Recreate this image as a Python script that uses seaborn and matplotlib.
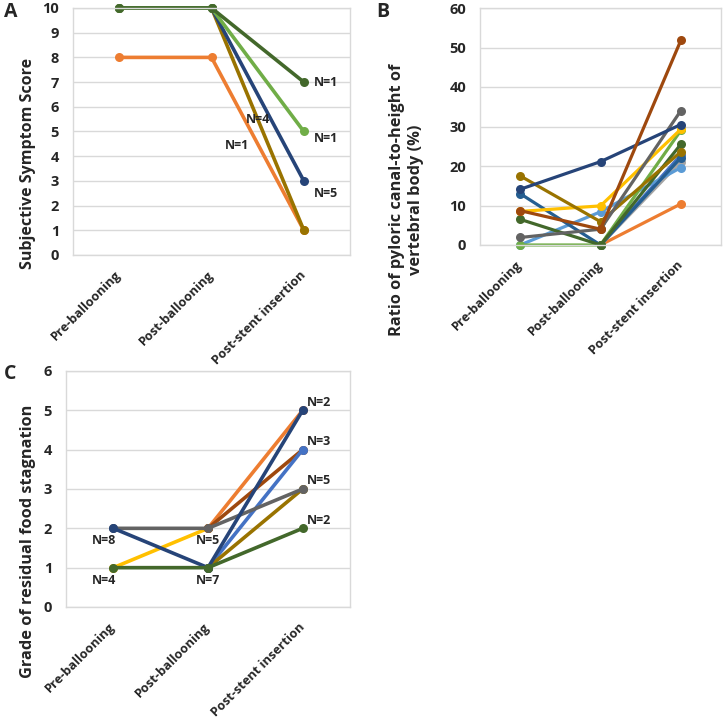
import numpy as np
import pandas as pd
import matplotlib
matplotlib.use("Agg")
import matplotlib.pyplot as plt
import seaborn as sns

stages = ["Pre-ballooning", "Post-ballooning", "Post-stent insertion"]

# Panel A - subjective symptom score (one line per patient group)
a_names = ["orange", "olive", "dark blue", "green", "dark green"]
a_pre = [8, 10, 10, 10, 10]
a_post = [8, 10, 10, 10, 10]
a_stent = [1, 1, 3, 5, 7]

# Panel B - ratio of pyloric canal to vertebral body height (%)
b_names = ["orange", "light gray", "royal blue", "light blue", "blue", "green",
           "dark green", "gold", "olive", "gray", "dark blue", "brown"]
b_pre = [np.nan, np.nan, np.nan, 0.0, 13.0, 0.0, 6.5, 8.5, 17.5, 1.9, 14.1, 8.7]
b_post = [0.0, 0.0, 0.0, 8.4, 0.0, 0.0, 0.0, 9.9, 5.9, 4.0, 21.1, 4.0]
b_stent = [10.4, 21.1, 22.8, 19.6, 22.1, 29.0, 25.5, 29.3, 23.6, 34.0, 30.5, 51.8]

# Panel C - grade of residual food stagnation
c_names = ["gold", "orange", "brown", "royal blue", "olive", "gray", "dark blue", "dark green"]
c_pre = [1, np.nan, np.nan, np.nan, np.nan, 2, 2, 1]
c_post = [2, 2, 2, 1, 1, 2, 1, 1]
c_stent = [np.nan, 5, 4, 4, 3, 3, 5, 2]
c_left_labels = ["N=8", "N=4"]
c_mid_labels = ["N=5", "N=7"]
c_right_labels = ["N=2", "N=3", "N=5", "N=2"]
c_right_values = [5, 4, 3, 2]

colors = {
    "orange": "#ED7D31", "olive": "#997300", "dark blue": "#264478",
    "green": "#70AD47", "dark green": "#43682B", "light gray": "#A5A5A5",
    "royal blue": "#4472C4", "light blue": "#5B9BD5", "blue": "#255E91",
    "gold": "#FFC000", "gray": "#636363", "brown": "#9E480E",
}

GRID = "#D9D9D9"
NFS = 9


def long_df(names, pre, post, stent):
    rows = []
    for i, n in enumerate(names):
        for j, v in enumerate((pre[i], post[i], stent[i])):
            if not np.isnan(v):
                rows.append((n, j, v))
    return pd.DataFrame(rows, columns=["series", "stage", "value"])


def draw(ax, names, pre, post, stent, ymax, ystep, lw, ms):
    df = long_df(names, pre, post, stent)
    sns.lineplot(data=df, x="stage", y="value", hue="series", hue_order=names,
                 palette=colors, marker="o", markersize=ms, markeredgewidth=0,
                 linewidth=lw, legend=False, estimator=None, sort=False, ax=ax)
    for ln in ax.lines:
        ln.set_clip_on(False)
    ax.set_xlim(-0.5, 2.5)
    ax.set_ylim(0, ymax)
    ax.set_yticks(np.arange(0, ymax + 0.1, ystep))
    ax.set_xticks(range(3))
    ax.set_xticklabels(stages, rotation=45, ha="right", va="center",
                       rotation_mode="anchor", fontsize=9.2, fontweight="bold")
    ax.tick_params(axis="x", length=0, pad=13)
    ax.tick_params(axis="y", length=0, pad=10, labelsize=10.5)
    for lab in ax.get_yticklabels():
        lab.set_fontweight("bold")
    ax.yaxis.grid(True, color=GRID, lw=1)
    ax.xaxis.grid(False)
    ax.set_axisbelow(True)
    for s in ax.spines.values():
        s.set_color(GRID)
        s.set_linewidth(1)
    ax.set_xlabel("")
    ax.set_ylabel("")


sns.set_theme(style="white")
plt.rcParams["font.family"] = ["Open Sans", "DejaVu Sans"]
plt.rcParams["font.weight"] = "bold"

W, H = 726, 727
fig = plt.figure(figsize=(W / 100, H / 100), dpi=100)


def px_axes(l, t, r, b):
    return fig.add_axes([l / W, 1 - b / H, (r - l) / W, (b - t) / H])


# Panel A
axA = px_axes(73, 8, 350, 255)
draw(axA, a_names, a_pre, a_post, a_stent, 10, 1, 2.6, 6.5)
for txt, y, dy in [("N=1", 7, 0), ("N=1", 5, -5), ("N=5", 3, -9)]:
    axA.annotate(txt, (2, y), xytext=(7, dy), textcoords="offset points",
                 ha="left", va="center", fontsize=NFS, fontweight="bold")
axA.text(1.5, 5.47, "N=4", ha="center", va="center", fontsize=NFS, fontweight="bold")
axA.text(1.28, 4.45, "N=1", ha="center", va="center", fontsize=NFS, fontweight="bold")
fig.text(28 / W, 1 - 163 / H, "Subjective Symptom Score", rotation=90,
         ha="center", va="center", fontsize=11.5, fontweight="bold")
fig.text(4 / W, 1 - 12 / H, "A", ha="left", va="center", fontsize=14, fontweight="bold")

# Panel B
axB = px_axes(480, 8, 721, 245)
draw(axB, b_names, b_pre, b_post, b_stent, 60, 10, 2.3, 6.5)
fig.text(407 / W, 1 - 200 / H, "Ratio of pyloric canal-to-height of\nvertebral body (%)",
         rotation=90, ha="center", va="center", fontsize=11.8, fontweight="bold",
         multialignment="center", linespacing=1.25)
fig.text(376 / W, 1 - 12 / H, "B", ha="left", va="center", fontsize=14, fontweight="bold")

# Panel C
axC = px_axes(66, 371, 350, 607)
draw(axC, c_names, c_pre, c_post, c_stent, 6, 1, 2.6, 6.5)
for txt, y in zip(c_left_labels, [2, 1]):
    axC.annotate(txt, (0, y), xytext=(-7, -9), textcoords="offset points",
                 ha="center", va="center", fontsize=NFS, fontweight="bold")
for txt, y in zip(c_mid_labels, [2, 1]):
    axC.annotate(txt, (1, y), xytext=(0, -9), textcoords="offset points",
                 ha="center", va="center", fontsize=NFS, fontweight="bold")
for txt, y in zip(c_right_labels, c_right_values):
    axC.annotate(txt, (2, y), xytext=(3, 6), textcoords="offset points",
                 ha="left", va="center", fontsize=NFS, fontweight="bold")
fig.text(28 / W, 1 - 541 / H, "Grade of residual food stagnation", rotation=90,
         ha="center", va="center", fontsize=11.8, fontweight="bold")
fig.text(4 / W, 1 - 374 / H, "C", ha="left", va="center", fontsize=14, fontweight="bold")

fig.savefig("out.png", dpi=100, facecolor="white")
